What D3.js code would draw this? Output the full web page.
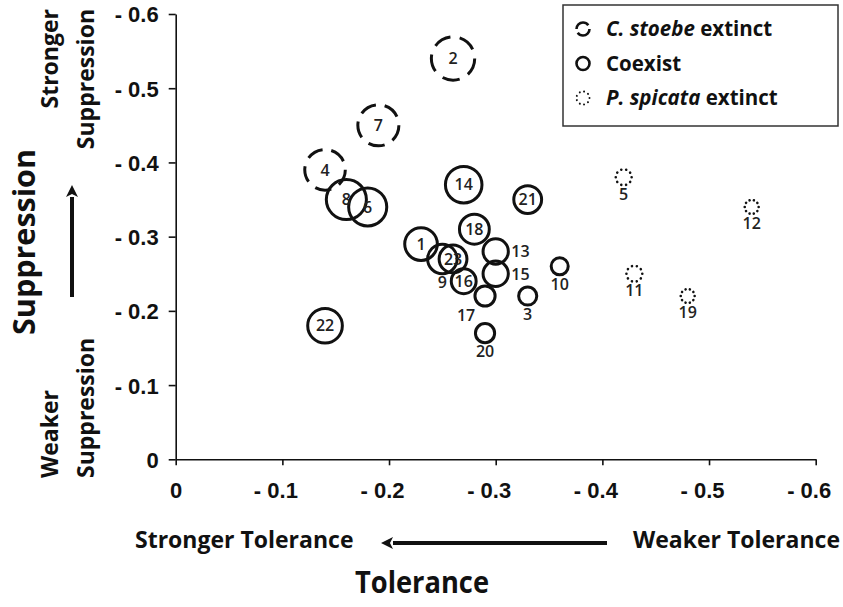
<!DOCTYPE html>
<html>
<head>
<meta charset="utf-8">
<script src="https://cdn.jsdelivr.net/npm/d3@7"></script>
<style>
body { margin: 0; background: #fff; }
svg { display: block; }
</style>
</head>
<body>
<div id="chart"></div>
<script>
// ---------------------------------------------------------------- data
const ids       = [2, 7, 4, 8, 6, 14, 21, 18, 1, 9, 23, 13, 15, 16, 17, 3, 10, 20, 22, 5, 11, 12, 19];
const tolerance = [-0.26, -0.19, -0.14, -0.16, -0.18, -0.27, -0.33, -0.28, -0.23, -0.25, -0.26, -0.30, -0.30, -0.27, -0.29, -0.33, -0.36, -0.29, -0.14, -0.42, -0.43, -0.54, -0.48];
const suppress  = [-0.54, -0.45, -0.39, -0.35, -0.34, -0.37, -0.35, -0.31, -0.29, -0.27, -0.27, -0.28, -0.25, -0.24, -0.22, -0.22, -0.26, -0.17, -0.18, -0.38, -0.25, -0.34, -0.22];
const bubble    = [97, 87, 85, 83, 75, 69, 40, 46, 55, 45, 40, 33, 33, 32, 21, 17, 15, 19, 62, 13, 13, 10, 10];
const outcome   = ["cs", "cs", "cs", "co", "co", "co", "co", "co", "co", "co", "co", "co", "co", "co", "co", "co", "co", "co", "co", "ps", "ps", "ps", "ps"];
const labelAt   = ["in", "in", "in", "in", "in", "in", "in", "in", "in", "below", "in", "right", "right", "in", "belowleft", "below", "below", "below", "in", "below", "below", "below", "below"];

const xTicks = [0, -0.1, -0.2, -0.3, -0.4, -0.5, -0.6];
const yTicks = [0, -0.1, -0.2, -0.3, -0.4, -0.5, -0.6];

const legendItems = [
	{ key: "cs", italic: "C. stoebe", rest: " extinct" },
	{ key: "co", italic: "", rest: "Coexist" },
	{ key: "ps", italic: "P. spicata", rest: " extinct" }
];

// ---------------------------------------------------------------- setup
const width = 843, height = 607;
const ink = "#111";
const labelFont = "'Open Sans', sans-serif";
const tickFont = "'Liberation Sans', Arial, sans-serif";

const svg = d3.select("#chart").append("svg")
	.attr("width", width)
	.attr("height", height);

const x = d3.scaleLinear().domain([0, -0.6]).range([175.7, 815.7]);
const y = d3.scaleLinear().domain([0, -0.6]).range([459.3, 14]);
const r = d3.scaleSqrt().domain([0, 100]).range([0, 22]);

const points = ids.map((id, i) => ({
	id: id, tx: tolerance[i], sy: suppress[i], v: bubble[i], kind: outcome[i], lab: labelAt[i]
}));

function styleCircle(sel) {
	sel.attr("fill", "none")
		.attr("stroke", ink)
		.attr("pathLength", 100)
		.attr("stroke-width", d => d.kind == "ps" ? 2.6 : 3)
		.attr("stroke-linecap", d => d.kind == "ps" ? "round" : "butt")
		.attr("stroke-dasharray", d => {
			if (d.kind == "cs") return "13 7";
			if (d.kind == "ps") return "0.01 10";
			return null;
		});
}

// ---------------------------------------------------------------- axes
const fmt = d => d == 0 ? "0" : "- " + Math.abs(d).toFixed(1);

const gx = svg.append("g")
	.attr("transform", `translate(0,${y(0)})`)
	.call(d3.axisBottom(x).tickValues(xTicks).tickFormat(fmt).tickSize(6).tickSizeOuter(0));

gx.selectAll("text")
	.attr("dy", null)
	.attr("y", 39)
	.attr("dx", d => d == 0 ? 0 : -7)
	.style("font-family", tickFont)
	.style("font-weight", "bold")
	.style("font-size", "22px")
	.attr("fill", ink);

const gy = svg.append("g")
	.attr("transform", `translate(${x(0)},0)`)
	.call(d3.axisLeft(y).tickValues(yTicks).tickFormat(fmt).tickSize(7).tickSizeOuter(0));

gy.selectAll("text")
	.attr("x", -17)
	.attr("dy", "0.36em")
	.style("font-family", tickFont)
	.style("font-weight", "bold")
	.style("font-size", "22px")
	.attr("fill", ink);

svg.selectAll(".domain, .tick line").attr("stroke", ink).attr("stroke-width", 1.6);

// ---------------------------------------------------------------- bubbles
const bubbles = svg.append("g");

bubbles.selectAll("circle")
	.data(points)
	.enter()
	.append("circle")
	.attr("cx", d => x(d.tx))
	.attr("cy", d => y(d.sy))
	.attr("r", d => r(d.v))
	.call(styleCircle);

bubbles.selectAll("text")
	.data(points)
	.enter()
	.append("text")
	.attr("x", d => {
		const cx = x(d.tx), rr = r(d.v);
		if (d.lab == "right") return cx + rr + 3;
		if (d.lab == "belowleft") return cx - 19;
		return cx;
	})
	.attr("y", d => {
		const cy = y(d.sy), rr = r(d.v);
		if (d.lab == "below" || d.lab == "belowleft") return cy + rr + 9;
		return cy;
	})
	.attr("dy", "0.36em")
	.attr("text-anchor", d => d.lab == "right" ? "start" : "middle")
	.style("font-family", labelFont)
	.style("font-size", "16px")
	.style("font-weight", 600)
	.attr("fill", "#222")
	.text(d => d.id);

// ---------------------------------------------------------------- legend
const legend = svg.append("g");

legend.append("rect")
	.attr("x", 563).attr("y", 5)
	.attr("width", 275).attr("height", 121)
	.attr("fill", "#fff")
	.attr("stroke", "#333")
	.attr("stroke-width", 1.5);

const rows = legend.selectAll("g.row")
	.data(legendItems)
	.enter()
	.append("g")
	.attr("class", "row")
	.attr("transform", (d, i) => `translate(0,${29 + i * 34.5})`);

rows.append("circle")
	.datum(d => ({ kind: d.key }))
	.attr("cx", 583).attr("cy", 0).attr("r", 6.5)
	.call(styleCircle)
	.attr("stroke-width", d => d.kind == "ps" ? 2 : 2.6)
	.attr("stroke-dasharray", d => {
		if (d.kind == "cs") return "40 10";
		if (d.kind == "ps") return "0.01 11.1";
		return null;
	});

const lt = rows.append("text")
	.attr("x", 606)
	.attr("y", 0)
	.attr("dy", "0.36em")
	.style("font-family", labelFont)
	.style("font-weight", "bold")
	.style("font-size", "20.5px")
	.attr("fill", ink);

lt.append("tspan").style("font-style", "italic").text(d => d.italic);
lt.append("tspan").text(d => d.rest);

// ---------------------------------------------------------------- annotations
function arrow(x1, y1, x2, y2) {
	const a = Math.atan2(y2 - y1, x2 - x1);
	const len = 12, half = 6;
	const bx = x2 - len * Math.cos(a), by = y2 - len * Math.sin(a);
	svg.append("line")
		.attr("x1", x1).attr("y1", y1).attr("x2", bx).attr("y2", by)
		.attr("stroke", ink).attr("stroke-width", 4);
	svg.append("path")
		.attr("d", `M${x2},${y2} L${bx - half * Math.sin(a)},${by + half * Math.cos(a)} L${bx + 3 * Math.cos(a)},${by + 3 * Math.sin(a)} L${bx + half * Math.sin(a)},${by - half * Math.cos(a)} Z`)
		.attr("fill", ink);
}

function addText(px, py, txt, size, anchor, rotate, len) {
	const t = svg.append("text")
		.attr("transform", `translate(${px},${py})` + (rotate ? " rotate(-90)" : ""))
		.attr("text-anchor", anchor)
		.style("font-family", labelFont)
		.style("font-weight", "bold")
		.style("font-size", size + "px")
		.attr("fill", ink)
		.text(txt);
	if (len) t.attr("textLength", len).attr("lengthAdjust", "spacingAndGlyphs");
}

// y side
addText(35, 242, "Suppression", 30.5, "middle", true);
addText(58, 9, "Stronger", 23, "end", true);
addText(94, 9, "Suppression", 23, "end", true);
addText(58, 478, "Weaker", 23, "start", true);
addText(94, 478, "Suppression", 23, "start", true);
arrow(72, 297, 72, 185);

// x side
addText(135, 548, "Stronger Tolerance", 23, "start", false);
addText(840, 548, "Weaker Tolerance", 23, "end", false);
addText(422, 593, "Tolerance", 31, "middle", false, 134);
arrow(607, 543, 381, 543);
</script>
</body>
</html>
